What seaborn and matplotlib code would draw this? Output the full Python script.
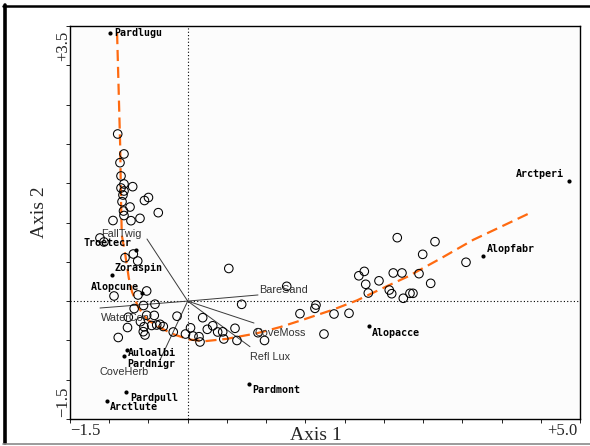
import matplotlib
matplotlib.use('Agg')
import pandas as pd
import matplotlib.pyplot as plt
import seaborn as sns
from matplotlib.lines import Line2D

# sample unit scores (open circles)
site_x = [-0.892, -0.812, -0.863, -0.850, -0.812, -0.701, -0.850, -0.812, -0.825, -0.500,
          -0.551, -0.837, -0.735, -0.375, -0.818, -0.812, -0.608, -0.723, -0.952, -1.118,
          -1.067, -0.799, -0.693, -0.637, -0.939, -0.633, -0.523, 0.524, 0.688, 1.262,
          -0.563, -0.417, -0.682, -0.757, -0.523, -0.426, -0.136, 0.191, -0.602, -0.767,
          -0.557, -0.459, -0.395, -0.353, -0.311, -0.566, -0.184, -0.885, -0.544, 0.036,
          -0.028, 0.068, 0.144, 0.157, 0.250, 0.319, 0.382, 0.446, 0.460, 0.603,
          0.628, 0.896, 0.979, 1.431, 1.635, 1.622, 1.865, 2.056, 1.737, 2.181,
          2.251, 2.269, 2.302, 2.438, 2.620, 2.731, 2.569, 2.600, 2.748, 2.833,
          2.871, 2.948, 3.097, 2.671, 3.152, 2.995, 3.547]
site_y = [2.126, 1.872, 1.761, 1.592, 1.490, 1.456, 1.439, 1.401, 1.350, 1.318,
          1.280, 1.265, 1.197, 1.125, 1.146, 1.089, 1.053, 1.023, 1.025, 0.803,
          0.752, 0.552, 0.599, 0.510, 0.065, 0.078, 0.129, 0.415, -0.041, 0.188,
          -0.056, -0.039, -0.095, -0.205, -0.181, -0.182, -0.192, -0.211, -0.262, -0.336,
          -0.326, -0.310, -0.304, -0.295, -0.323, -0.389, -0.393, -0.463, -0.431, -0.340,
          -0.419, -0.444, -0.453, -0.520, -0.359, -0.314, -0.393, -0.391, -0.482, -0.346,
          -0.501, -0.402, -0.501, -0.160, -0.050, -0.092, -0.164, -0.155, -0.419, 0.322,
          0.378, 0.214, 0.103, 0.258, 0.358, 0.358, 0.141, 0.094, 0.036, 0.099,
          0.099, 0.349, 0.226, 0.807, 0.756, 0.595, 0.494]

# species scores (filled dots)
species_names = ['Pardlugu', 'Arctperi', 'Alopfabr', 'Alopacce', 'Pardmont', 'Pardpull',
                 'Arctlute', 'Auloalbi', 'Pardnigr', 'Zoraspin', 'Alopcune', 'Troetecr']
species_x = [-0.990, 4.860, 3.770, 2.314, 0.781, -0.786, -1.029, -0.812, -0.774, -0.965, -0.579, -0.659]
species_y = [3.411, 1.528, 0.574, -0.317, -1.055, -1.157, -1.271, -0.698, -0.622, 0.332, 0.107, 0.650]

# environmental vectors (biplot lines from the centroid)
vector_names = ['FallTwig', 'BareSand', 'CoveMoss', 'Refl Lux', 'WaterCon', 'CoveHerb']
vector_x = [-0.519, 0.896, 0.845, 0.794, -1.118, -0.353]
vector_y = [0.790, 0.078, -0.279, -0.580, -0.088, -0.749]

# fitted trend (orange dashed)
curve_x = [-0.90, -0.88, -0.86, -0.85, -0.84, -0.80, -0.75, -0.71, -0.63, -0.51, -0.33, -0.16,
           0.03, 0.22, 0.50, 0.88, 1.18, 1.43, 1.85, 2.16, 2.54, 2.80, 3.22, 3.64, 3.98, 4.36]
curve_y = [3.41, 2.69, 1.96, 1.29, 0.84, 0.62, 0.29, 0.12, -0.08, -0.24, -0.35, -0.43,
           -0.49, -0.51, -0.48, -0.41, -0.33, -0.25, -0.11, 0.01, 0.19, 0.31, 0.54, 0.78, 0.94, 1.12]

# label offsets in pixels (dx, dy, ha)
PX = 0.72
species_offsets = [(4, 0, 'left'), (-5, 7, 'right'), (3, 7, 'left'), (3, -7, 'left'),
                   (3, -6, 'left'), (4, -6, 'left'), (3, -6, 'left'), (4, 3, 'left'),
                   (0, -14, 'left'), (3, 7, 'left'), (-3, 6, 'right'), (-4, 7, 'right')]
vector_offsets = [(-26, 5, 'center'), (1, 5, 'left'), (1, -10, 'left'),
                  (0, -10, 'left'), (1, -10, 'left'), (-60, -12, 'left')]

sites = pd.DataFrame({'x': site_x, 'y': site_y})
species = pd.DataFrame({'x': species_x, 'y': species_y, 'name': species_names})
curve = pd.DataFrame({'x': curve_x, 'y': curve_y})

sns.set_style('white')
plt.rcParams['font.family'] = ['DejaVu Sans']

W, H = 590, 446
fig = plt.figure(figsize=(W / 100, H / 100), dpi=100)
ax = fig.add_axes([70 / W, 1 - 419 / H, 510 / W, 393 / H])

# outer window frame
fig.add_artist(Line2D([4.5 / W, 4.5 / W], [1 - 5 / H, 1 - 443 / H], transform=fig.transFigure,
                      color='black', lw=2.6))
fig.add_artist(Line2D([3 / W, 1], [1 - 5.5 / H, 1 - 5.5 / H], transform=fig.transFigure,
                      color='black', lw=1.8))
fig.add_artist(Line2D([3 / W, 1], [1 - 443.5 / H, 1 - 443.5 / H], transform=fig.transFigure,
                      color='#8a8a8a', lw=1.2))

# trend curve
sns.lineplot(data=curve, x='x', y='y', sort=False, ax=ax, color='#ff6a10', lw=1.6, zorder=2)
ax.lines[-1].set_dashes((5, 2.6))
ax.lines[-1].set_solid_joinstyle('round')

# dotted axes through origin
ax.axhline(0, color='black', lw=0.8, linestyle=(0, (1, 2)), zorder=1)
ax.axvline(0, color='black', lw=0.8, linestyle=(0, (1, 2)), zorder=1)

# vectors
for name, vx, vy, (dx, dy, ha) in zip(vector_names, vector_x, vector_y, vector_offsets):
    ax.plot([0, vx], [0, vy], color='#3a3a3a', lw=0.7, zorder=3)
    ax.annotate(name, (vx, vy), xytext=(dx * PX, dy * PX), textcoords='offset points',
                ha=ha, va='center', fontsize=7.8, color='#333333',
                family=['Liberation Sans', 'DejaVu Sans'], zorder=5)

# sample units
sns.scatterplot(data=sites, x='x', y='y', ax=ax, s=38, facecolor='none',
                edgecolor='black', linewidth=0.75, zorder=4)

# species
sns.scatterplot(data=species, x='x', y='y', ax=ax, s=9, color='black',
                edgecolor='black', linewidth=0, zorder=6)
for name, sx, sy, (dx, dy, ha) in zip(species_names, species_x, species_y, species_offsets):
    ax.annotate(name, (sx, sy), xytext=(dx * PX, dy * PX), textcoords='offset points',
                ha=ha, va='center', fontsize=7.2, fontweight='bold', color='black',
                family=['DejaVu Sans Mono'], zorder=6)

ax.set_xlim(-1.5, 5.0)
ax.set_ylim(-1.5, 3.5)
ax.set_xticks([-1.5 + 0.5 * i for i in range(14)])
ax.set_yticks([-1.5 + 0.5 * i for i in range(11)])
ax.set_xticklabels([])
ax.set_yticklabels([])
ax.tick_params(direction='out', length=3, width=0.6, color='black',
               bottom=True, left=True, top=False, right=False)
ax.set_xlabel('')
ax.set_ylabel('')
for sp in ax.spines.values():
    sp.set_color('black')
    sp.set_linewidth(1.0)
ax.set_facecolor('#fcfcfc')

serif = ['Liberation Serif', 'DejaVu Serif']
fig.text(70 / W, 1 - 431 / H, '\u22121.5', ha='left', va='center', fontsize=12, family=serif)
fig.text(577 / W, 1 - 431 / H, '+5.0', ha='right', va='center', fontsize=12, family=serif)
fig.text(63 / W, 1 - 31 / H, '+3.5', ha='center', va='top', rotation=90, fontsize=12, family=serif)
fig.text(63 / W, 1 - 417 / H, '\u22121.5', ha='center', va='bottom', rotation=90, fontsize=12, family=serif)
fig.text(316 / W, 1 - 435 / H, 'Axis 1', ha='center', va='center', fontsize=14, family=serif)
fig.text(40 / W, 1 - 212 / H, 'Axis 2', ha='center', va='center', rotation=90, fontsize=14, family=serif)

fig.savefig('out.png', dpi=100)
